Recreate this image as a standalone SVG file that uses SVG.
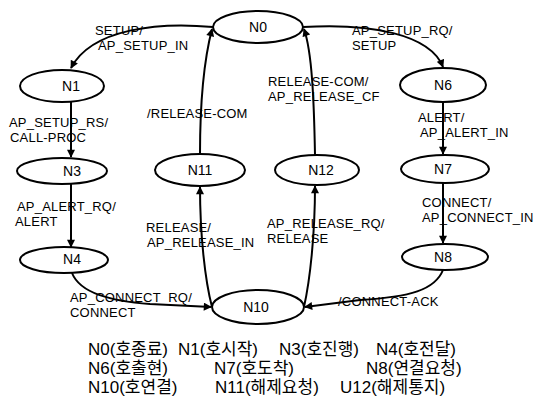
<svg xmlns="http://www.w3.org/2000/svg" width="537" height="408" viewBox="0 0 537 408">
<defs>
<style>
.n ellipse{fill:#fff;stroke:#000;stroke-width:2}
.n text{font-family:"Liberation Sans",Arial,sans-serif;font-size:14px;text-anchor:middle;fill:#000}
.c path{fill:none;stroke:#000;stroke-width:2}
.l{font-family:"Liberation Sans",Arial,sans-serif;font-size:13px;letter-spacing:0.2px;fill:#000}
.k{font-family:"Liberation Sans","Noto Sans CJK KR",sans-serif;font-size:17px;fill:#000}
</style>
<marker id="a" viewBox="0 0 10 10" refX="9" refY="5" markerWidth="9" markerHeight="8" markerUnits="userSpaceOnUse" orient="auto">
<path d="M0,0 L10,5 L0,10 z" fill="#000"/>
</marker>
</defs>
<g class="c" id="connectors">
<path d="M213,27 C160,22 92,28 71,68" marker-end="url(#a)"/>
<path d="M303,27 C370,23 430,34 443,67" marker-end="url(#a)"/>
<path d="M200,154 C200,100 204,60 212,29" marker-end="url(#a)"/>
<path d="M315,155 C314,100 312,52 304,29" marker-end="url(#a)"/>
<path d="M71,102 L71,157" marker-end="url(#a)"/>
<path d="M71,184 L71,247" marker-end="url(#a)"/>
<path d="M443,102 L443,154" marker-end="url(#a)"/>
<path d="M443,183 L443,243" marker-end="url(#a)"/>
<path d="M212,307 C205,280 200,235 200,187" marker-end="url(#a)"/>
<path d="M304,307 C310,280 315,235 315,186" marker-end="url(#a)"/>
<path d="M72,273 C80,293 110,301 150,304 L211,307" marker-end="url(#a)"/>
<path d="M443,270 C435,290 410,297 360,300 L305,307" marker-end="url(#a)"/>
</g>
<g class="n" id="N0"><ellipse cx="258" cy="27" rx="45" ry="16"/><text x="258" y="32">N0</text></g>
<g class="n" id="N1"><ellipse cx="62" cy="86" rx="42" ry="16"/><text x="71" y="91">N1</text></g>
<g class="n" id="N3"><ellipse cx="62" cy="171" rx="45" ry="13"/><text x="72" y="176">N3</text></g>
<g class="n" id="N4"><ellipse cx="64" cy="260" rx="44" ry="13"/><text x="72" y="264">N4</text></g>
<g class="n" id="N6"><ellipse cx="443" cy="85" rx="43" ry="17"/><text x="443" y="90">N6</text></g>
<g class="n" id="N7"><ellipse cx="445" cy="169" rx="44" ry="14"/><text x="443" y="174">N7</text></g>
<g class="n" id="N8"><ellipse cx="445" cy="257" rx="43" ry="13"/><text x="443" y="262">N8</text></g>
<g class="n" id="N11"><ellipse cx="200" cy="170" rx="45" ry="16"/><text x="200" y="175">N11</text></g>
<g class="n" id="N12"><ellipse cx="317" cy="170" rx="42" ry="15"/><text x="321" y="175">N12</text></g>
<g class="n" id="N10"><ellipse cx="258" cy="307" rx="46" ry="17"/><text x="256" y="312">N10</text></g>
<g id="labels">
<text class="l" x="95" y="35">SETUP/</text>
<text class="l" x="98" y="50">AP_SETUP_IN</text>
<text class="l" x="352" y="35">AP_SETUP_RQ/</text>
<text class="l" x="352" y="50">SETUP</text>
<text class="l" x="147" y="118">/RELEASE-COM</text>
<text class="l" x="268" y="86">RELEASE-COM/</text>
<text class="l" x="268" y="101">AP_RELEASE_CF</text>
<text class="l" x="9" y="127">AP_SETUP_RS/</text>
<text class="l" x="10" y="142">CALL-PROC</text>
<text class="l" x="418" y="122">ALERT/</text>
<text class="l" x="420" y="137">AP_ALERT_IN</text>
<text class="l" x="17" y="211">AP_ALERT_RQ/</text>
<text class="l" x="15" y="226">ALERT</text>
<text class="l" x="146" y="232">RELEASE/</text>
<text class="l" x="147" y="247">AP_RELEASE_IN</text>
<text class="l" x="267" y="228">AP_RELEASE_RQ/</text>
<text class="l" x="267" y="243">RELEASE</text>
<text class="l" x="422" y="207">CONNECT/</text>
<text class="l" x="422" y="222">AP_CONNECT_IN</text>
<text class="l" x="70" y="302">AP_CONNECT_RQ/</text>
<text class="l" x="70" y="317">CONNECT</text>
<text class="l" x="338" y="306">/CONNECT-ACK</text>
</g>
<g id="legend">
<text class="k" x="88" y="355">N0(호종료)</text>
<text class="k" x="178" y="355">N1(호시작)</text>
<text class="k" x="279" y="355">N3(호진행)</text>
<text class="k" x="376" y="355">N4(호전달)</text>
<text class="k" x="88" y="374">N6(호출현)</text>
<text class="k" x="214" y="374">N7(호도착)</text>
<text class="k" x="366" y="374">N8(연결요청)</text>
<text class="k" x="88" y="393">N10(호연결)</text>
<text class="k" x="215" y="393">N11(해제요청)</text>
<text class="k" x="340" y="393">U12(해제통지)</text>
</g>
</svg>
